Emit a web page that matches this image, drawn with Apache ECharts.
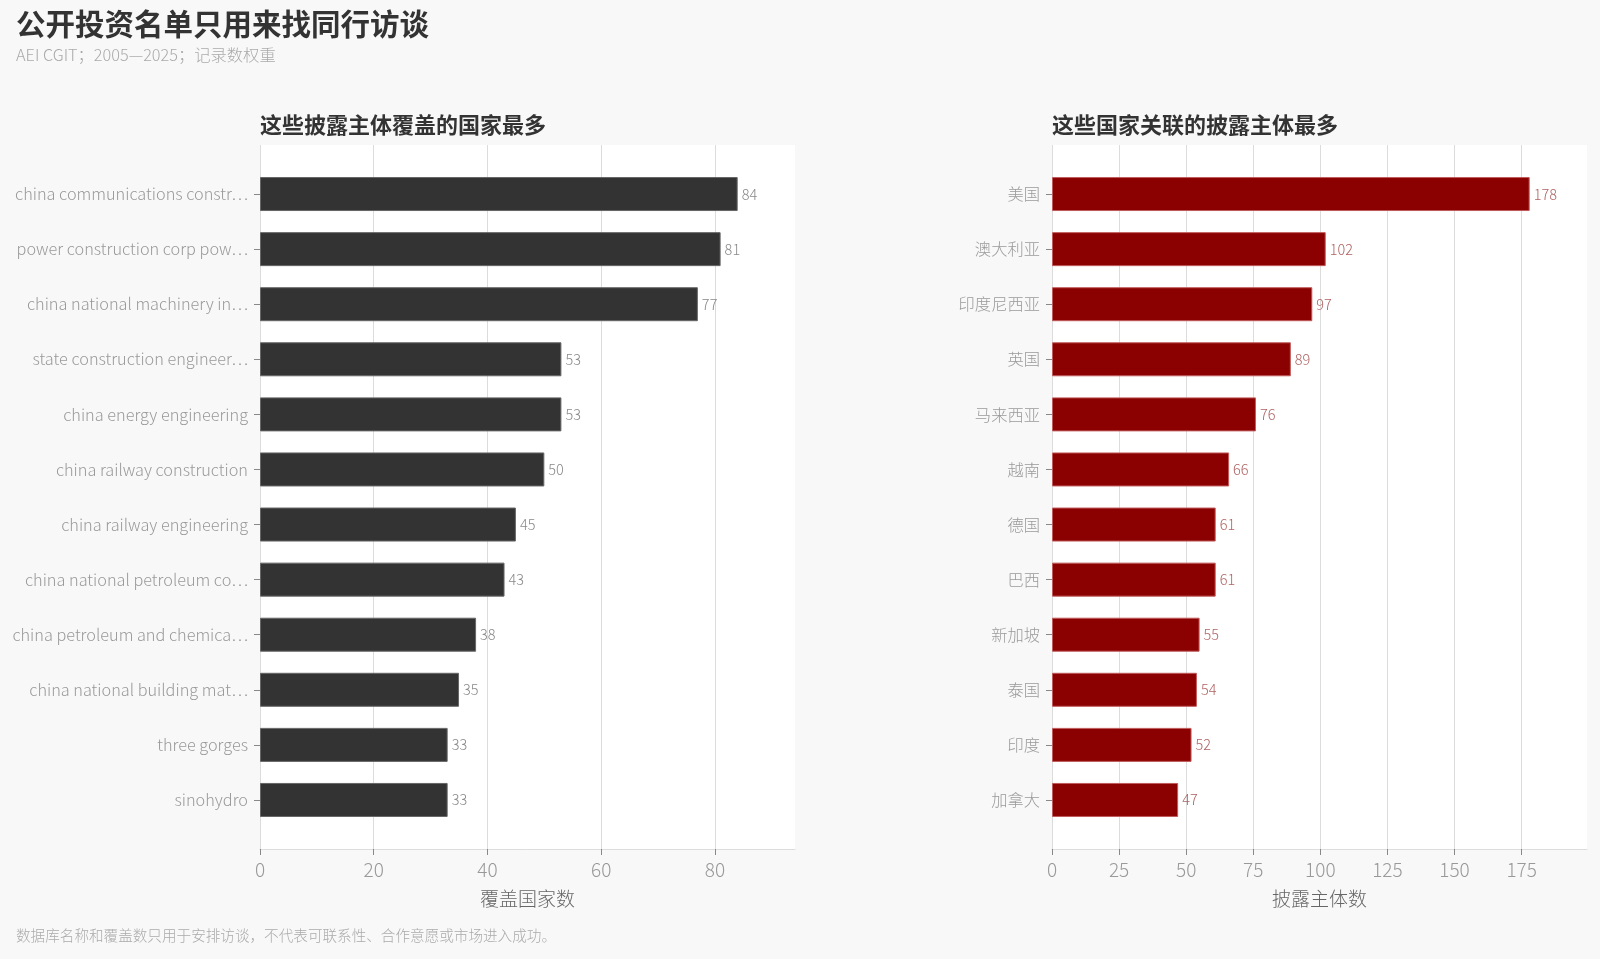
<!DOCTYPE html>
<html>
<head>
<meta charset="utf-8">
<script src="https://cdn.jsdelivr.net/npm/echarts@6/dist/echarts.min.js"></script>
<style>
  html, body { margin: 0; padding: 0; background: #f8f8f8; }
  #chart { width: 1600px; height: 959px; }
</style>
</head>
<body>
<div id="chart"></div>
<script>
// 左图：披露主体 -> 覆盖国家数
var entityNames = ['china communications constr…', 'power construction corp pow…', 'china national machinery in…',
    'state construction engineer…', 'china energy engineering', 'china railway construction',
    'china railway engineering', 'china national petroleum co…', 'china petroleum and chemica…',
    'china national building mat…', 'three gorges', 'sinohydro'];
var entityCounts = [84, 81, 77, 53, 53, 50, 45, 43, 38, 35, 33, 33];

// 右图：国家 -> 披露主体数
var countryNames = ['美国', '澳大利亚', '印度尼西亚', '英国', '马来西亚', '越南', '德国', '巴西', '新加坡', '泰国', '印度', '加拿大'];
var countryCounts = [178, 102, 97, 89, 76, 66, 61, 61, 55, 54, 52, 47];

var leftTicks = 20, rightTicks = 25;

var FONT = '"Noto Sans CJK SC", "Noto Sans", sans-serif';
var myChart = echarts.init(document.getElementById('chart'));

var leftMax = Math.max.apply(null, entityCounts) * 1.12;
var rightMax = Math.max.apply(null, countryCounts) * 1.12;

function bgXAxis(idx, interval, max, name) {
    return {
        gridIndex: idx, type: 'value', min: 0, max: max, interval: interval,
        name: name, nameLocation: 'middle', nameGap: 40,
        nameTextStyle: { color: '#666', fontSize: 19, fontFamily: FONT, fontWeight: 300 },
        axisLine: { show: true, lineStyle: { color: '#dddddd' } },
        axisTick: { show: true, length: 6, lineStyle: { color: '#888' } },
        axisLabel: { color: '#999', fontSize: 19, fontFamily: FONT, fontWeight: 300, margin: 11, showMaxLabel: false },
        splitLine: { show: true, showMaxLine: false, lineStyle: { color: '#dcdcdc', width: 1 } }
    };
}
function barXAxis(idx, max) {
    return { gridIndex: idx, type: 'value', min: 0, max: max, show: false, splitLine: { show: false } };
}
function bgYAxis(idx) {
    return { gridIndex: idx, type: 'category', data: [''], show: false };
}
function barYAxis(idx, names) {
    return {
        gridIndex: idx, type: 'category', data: names, inverse: true,
        axisLine: { show: false },
        axisTick: { show: true, alignWithLabel: true, length: 6, lineStyle: { color: '#888' } },
        axisLabel: { color: '#999', fontSize: 16.3, fontFamily: FONT, fontWeight: 300, margin: 12 },
        splitLine: { show: false }
    };
}

var option = {
    backgroundColor: '#f8f8f8',
    animation: false,
    title: [
        { text: '公开投资名单只用来找同行访谈', left: 16, top: 9, padding: 0,
          textStyle: { fontSize: 29.5, fontWeight: 'bold', color: '#333', fontFamily: FONT } },
        { text: 'AEI CGIT；2005—2025；记录数权重', left: 16, top: 47, padding: 0,
          textStyle: { fontSize: 16.3, fontWeight: 300, color: '#aaa', fontFamily: FONT } },
        { text: '这些披露主体覆盖的国家最多', left: 260, top: 114, padding: 0,
          textStyle: { fontSize: 22, fontWeight: 'bold', color: '#333', fontFamily: FONT } },
        { text: '这些国家关联的披露主体最多', left: 1052, top: 114, padding: 0,
          textStyle: { fontSize: 22, fontWeight: 'bold', color: '#333', fontFamily: FONT } },
        { text: '数据库名称和覆盖数只用于安排访谈，不代表可联系性、合作意愿或市场进入成功。', left: 16, top: 928, padding: 0,
          textStyle: { fontSize: 14.6, fontWeight: 300, color: '#aaa', fontFamily: FONT } }
    ],
    grid: [
        // 背景网格（白底 + 竖线 + 底部坐标轴）
        { left: 260, right: 805, top: 145, bottom: 110, show: true, backgroundColor: '#ffffff', borderWidth: 0 },
        { left: 1052, right: 13, top: 145, bottom: 110, show: true, backgroundColor: '#ffffff', borderWidth: 0 },
        // 柱子所在网格（上下内缩）
        { left: 260, right: 805, top: 166.5, bottom: 131.5 },
        { left: 1052, right: 13, top: 166.5, bottom: 131.5 }
    ],
    xAxis: [
        bgXAxis(0, leftTicks, leftMax, '覆盖国家数'),
        bgXAxis(1, rightTicks, rightMax, '披露主体数'),
        barXAxis(2, leftMax),
        barXAxis(3, rightMax)
    ],
    yAxis: [
        bgYAxis(0),
        bgYAxis(1),
        barYAxis(2, entityNames),
        barYAxis(3, countryNames)
    ],
    series: [
        {
            name: '覆盖国家数', type: 'bar', xAxisIndex: 2, yAxisIndex: 2,
            data: entityCounts, barWidth: 34,
            itemStyle: { color: '#333333', borderColor: '#666666', borderWidth: 1 },
            label: { show: true, position: 'right', distance: 4, color: '#888', fontSize: 14.5, fontFamily: FONT, fontWeight: 300 }
        },
        {
            name: '披露主体数', type: 'bar', xAxisIndex: 3, yAxisIndex: 3,
            data: countryCounts, barWidth: 34,
            itemStyle: { color: '#8b0000', borderColor: '#c05a5a', borderWidth: 1 },
            label: { show: true, position: 'right', distance: 4, color: '#b06262', fontSize: 14.5, fontFamily: FONT, fontWeight: 300 }
        }
    ]
};

myChart.setOption(option);
</script>
</body>
</html>
